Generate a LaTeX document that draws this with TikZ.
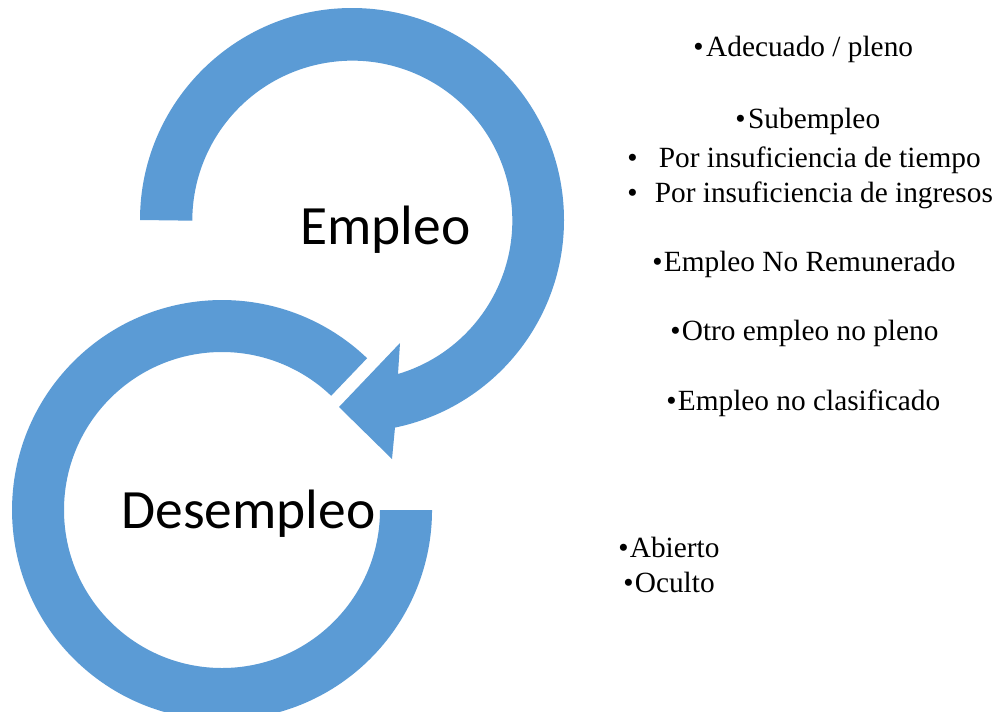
\documentclass[tikz,border=0pt]{standalone}
\usepackage{fontspec}
\setmainfont{Liberation Serif}
\newfontfamily\calibri{Carlito}
\definecolor{arcblue}{HTML}{5B9BD5}
\tikzset{
  band/.style={fill=arcblue, draw=none},
  bigtext/.style={inner sep=0pt, anchor=base west, font=\calibri\fontsize{41.6}{48}\selectfont},
  item/.style={inner sep=0pt, anchor=base west, font=\fontsize{22}{26}\selectfont},
}
\begin{document}
\begin{tikzpicture}[x=0.75pt, y=0.75pt]
\clip (0,0) rectangle (995,-711);
\fill[white] (0,0) rectangle (995,-711);
% lower circular band (Desempleo)
\fill[band] (367.1,-358.2) arc[start angle=46.3, end angle=360, radius=210]
  -- (380,-510) arc[start angle=360, end angle=46.3, radius=158] -- cycle;
% upper circular arrow (Empleo)
\fill[band] (140,-220) arc[start angle=180, end angle=-78.3, radius=212]
  -- (392,-459) -- (339,-407) -- (400,-343) -- (398,-374)
  arc[start angle=-73.4, end angle=180, radius=160] -- cycle;
\node[bigtext] (emp) at (300,-244) {Empleo};
\node[bigtext] (desemp) at (121,-528) {Desempleo};
\node[item] (i1) at (693,-56) {•\kern2pt Adecuado / pleno};
\node[item] (i2) at (735,-128) {•\kern2pt Subempleo};
\node[item] (i3) at (627,-167) {•\hspace{16pt}Por insuficiencia de tiempo};
\node[item] (i4) at (627,-202) {•\hspace{13pt}Por insuficiencia de ingresos};
\node[item] (i5) at (652,-271) {•\kern1pt Empleo No Remunerado};
\node[item] (i6) at (670,-340) {•\kern1pt Otro empleo no pleno};
\node[item] (i7) at (666,-410) {•\kern1pt Empleo no clasificado};
\node[item] (i8) at (618,-557) {•\kern1pt Abierto};
\node[item] (i9) at (623,-592) {•\kern1pt Oculto};
\end{tikzpicture}
\end{document}
